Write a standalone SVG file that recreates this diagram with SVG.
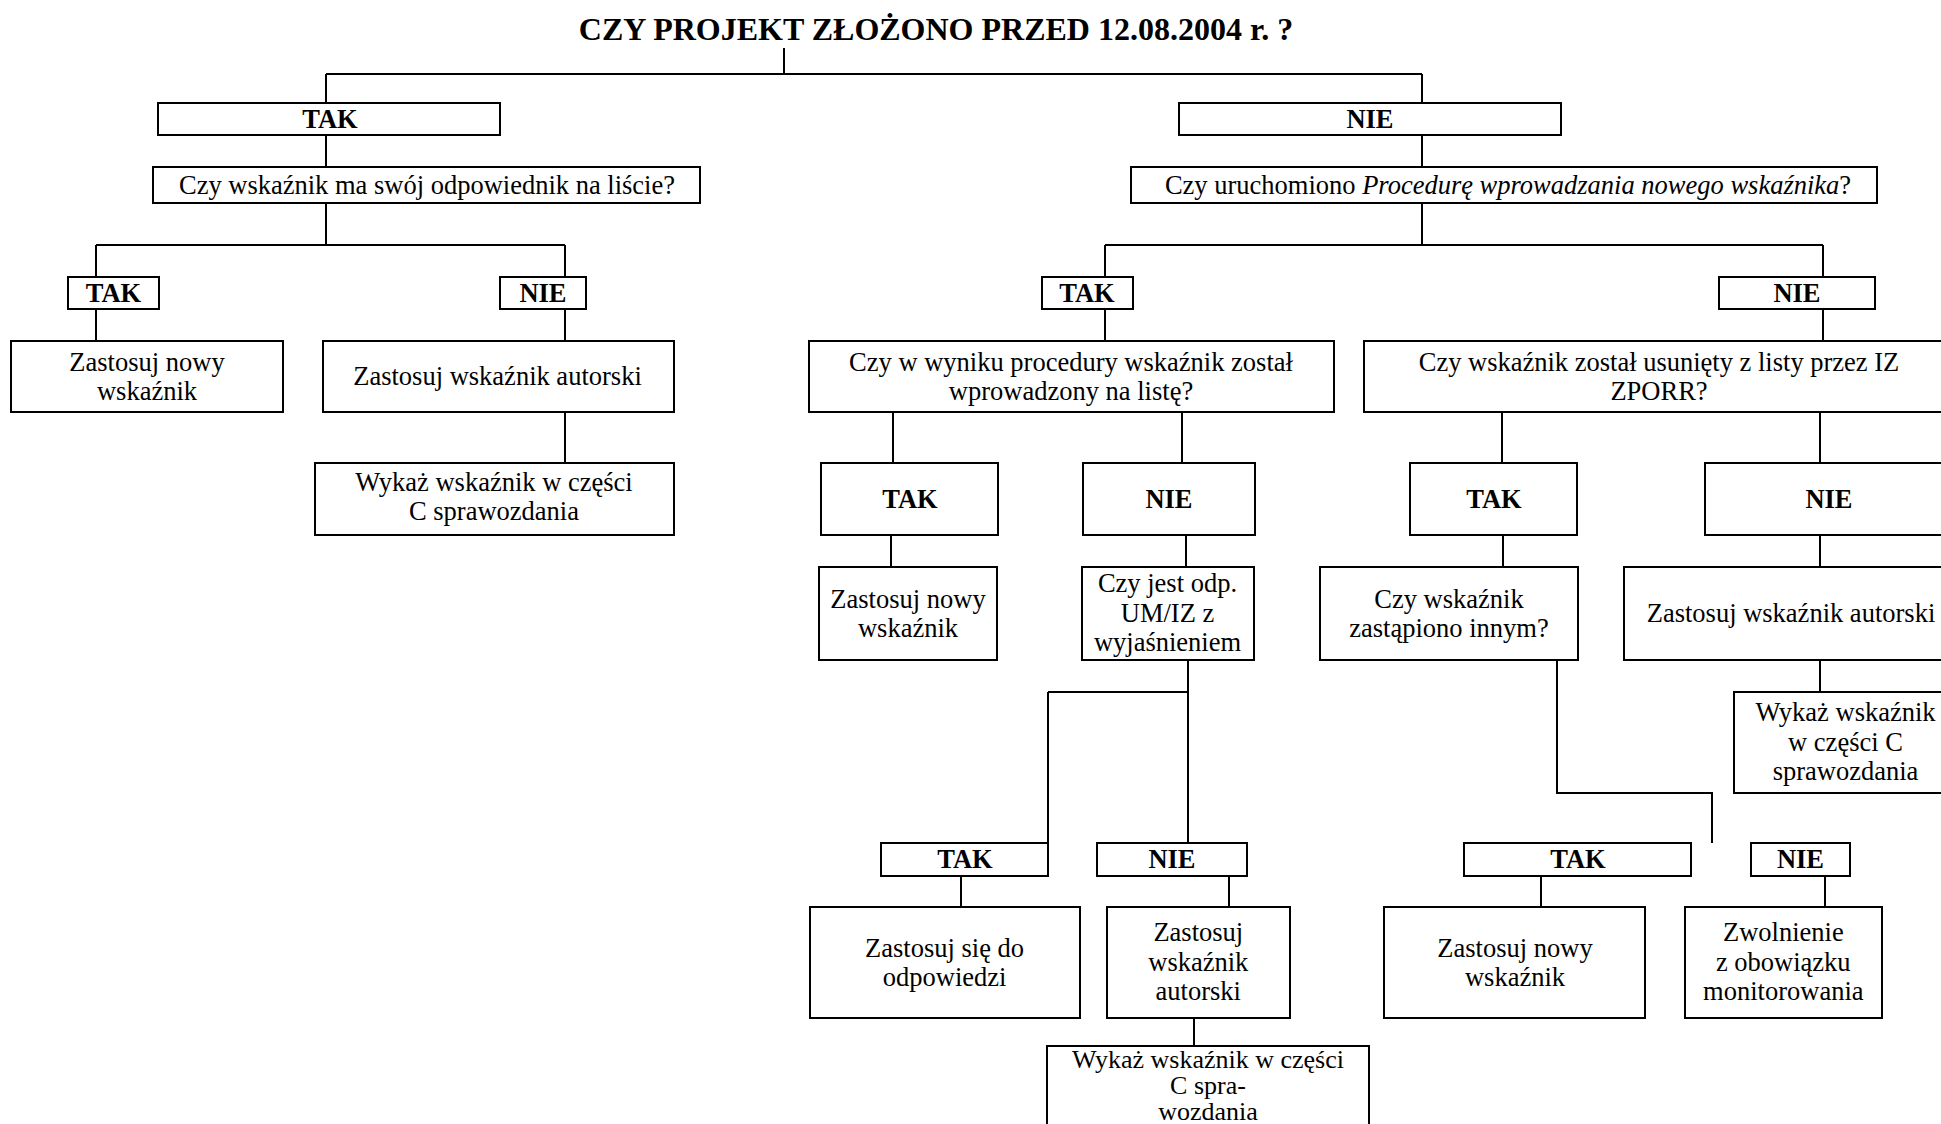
<svg xmlns="http://www.w3.org/2000/svg" width="1941" height="1124" viewBox="0 0 1941 1124">
<style>
.bx{fill:#fff;stroke:#000;stroke-width:2}
.c{stroke:#000;stroke-width:2;fill:none}
text{font-family:"Liberation Serif","Times New Roman",serif;font-size:26.5px;text-anchor:middle;fill:#000}
.b{font-weight:bold}
.ttl{font-size:32px;font-weight:bold}
.i{font-style:italic}
.sm{font-size:26px}
</style>
<rect width="1941" height="1124" fill="#fff"/>
<g id="connectors">
<path class="c" d="M784,48V74M326,74H1422M326,74V103M1422,74V103"/>
<path class="c" d="M326,135V167M326,203V245M96,245H565M96,245V277M565,245V277M96,309V341M565,309V341M565,412V463"/>
<path class="c" d="M1422,135V167M1422,203V245M1105,245H1823M1105,245V277M1823,245V277M1105,309V341M1823,309V341"/>
<path class="c" d="M893,412V463M1182,412V463M891,535V567M1186,535V567"/>
<path class="c" d="M1188,660V843M1048,692H1188M1048,692V843M961,876V907M1229,876V907M1194,1018V1046"/>
<path class="c" d="M1502,412V463M1820,412V463M1503,535V567M1820,535V567M1820,660V692"/>
<path class="c" d="M1557,660V793H1712V843M1541,876V907M1825,876V907"/>
</g>
<g id="title"><text class="ttl" x="936" y="40">CZY PROJEKT ZŁOŻONO PRZED 12.08.2004 r. ?</text></g>
<g id="tak1"><rect class="bx" x="158" y="103" width="342" height="32"/><text class="b" x="330" y="128">TAK</text></g>
<g id="nie1"><rect class="bx" x="1179" y="103" width="382" height="32"/><text class="b" x="1370" y="128">NIE</text></g>
<g id="q1"><rect class="bx" x="153" y="167" width="547" height="36"/><text x="427" y="194">Czy wskaźnik ma swój odpowiednik na liście?</text></g>
<g id="q2"><rect class="bx" x="1131" y="167" width="746" height="36"/><text x="1508" y="194">Czy uruchomiono <tspan class="i">Procedurę wprowadzania nowego wskaźnika</tspan>?</text></g>
<g id="tak2"><rect class="bx" x="68" y="277" width="91" height="32"/><text class="b" x="113.5" y="302">TAK</text></g>
<g id="nie2"><rect class="bx" x="500" y="277" width="86" height="32"/><text class="b" x="543" y="302">NIE</text></g>
<g id="tak3"><rect class="bx" x="1042" y="277" width="91" height="32"/><text class="b" x="1087" y="302">TAK</text></g>
<g id="nie3"><rect class="bx" x="1719" y="277" width="156" height="32"/><text class="b" x="1797" y="302">NIE</text></g>
<g id="new1"><rect class="bx" x="11" y="341" width="272" height="71"/><text x="147" y="371">Zastosuj nowy</text><text x="147" y="400">wskaźnik</text></g>
<g id="aut1"><rect class="bx" x="323" y="341" width="351" height="71"/><text x="497.5" y="385">Zastosuj wskaźnik autorski</text></g>
<g id="q3"><rect class="bx" x="809" y="341" width="525" height="71"/><text x="1071" y="371">Czy w wyniku procedury wskaźnik został</text><text x="1071" y="400">wprowadzony na listę?</text></g>
<g id="q4"><rect class="bx" x="1364" y="341" width="596" height="71"/><text x="1659" y="371">Czy wskaźnik został usunięty z listy przez IZ</text><text x="1659" y="400">ZPORR?</text></g>
<g id="wyk1"><rect class="bx" x="315" y="463" width="359" height="72"/><text x="494" y="491">Wykaż wskaźnik w części</text><text x="494" y="520">C sprawozdania</text></g>
<g id="tak4"><rect class="bx" x="821" y="463" width="177" height="72"/><text class="b" x="910" y="508">TAK</text></g>
<g id="nie4"><rect class="bx" x="1083" y="463" width="172" height="72"/><text class="b" x="1169" y="508">NIE</text></g>
<g id="tak5"><rect class="bx" x="1410" y="463" width="167" height="72"/><text class="b" x="1494" y="508">TAK</text></g>
<g id="nie5"><rect class="bx" x="1705" y="463" width="255" height="72"/><text class="b" x="1829" y="508">NIE</text></g>
<g id="new2"><rect class="bx" x="819" y="567" width="178" height="93"/><text x="908" y="608">Zastosuj nowy</text><text x="908" y="637">wskaźnik</text></g>
<g id="q5"><rect class="bx" x="1082" y="567" width="172" height="93"/><text x="1167.5" y="592">Czy jest odp.</text><text x="1167.5" y="622">UM/IZ z</text><text x="1167.5" y="651">wyjaśnieniem</text></g>
<g id="q6"><rect class="bx" x="1320" y="567" width="258" height="93"/><text x="1449" y="608">Czy wskaźnik</text><text x="1449" y="637">zastąpiono innym?</text></g>
<g id="aut2"><rect class="bx" x="1624" y="567" width="336" height="93"/><text x="1791" y="622">Zastosuj wskaźnik autorski</text></g>
<g id="wyk2"><rect class="bx" x="1734" y="692" width="226" height="101"/><text x="1845.5" y="721">Wykaż wskaźnik</text><text x="1845.5" y="751">w części C</text><text x="1845.5" y="780">sprawozdania</text></g>
<g id="tak6"><rect class="bx" x="881" y="843" width="167" height="33"/><text class="b" x="965" y="868">TAK</text></g>
<g id="nie6"><rect class="bx" x="1097" y="843" width="150" height="33"/><text class="b" x="1172" y="868">NIE</text></g>
<g id="tak7"><rect class="bx" x="1464" y="843" width="227" height="33"/><text class="b" x="1578" y="868">TAK</text></g>
<g id="nie7"><rect class="bx" x="1751" y="843" width="99" height="33"/><text class="b" x="1800.5" y="868">NIE</text></g>
<g id="resp"><rect class="bx" x="810" y="907" width="270" height="111"/><text x="944.6" y="957">Zastosuj się do</text><text x="944.6" y="986">odpowiedzi</text></g>
<g id="aut3"><rect class="bx" x="1107" y="907" width="183" height="111"/><text x="1198.3" y="941">Zastosuj</text><text x="1198.3" y="971">wskaźnik</text><text x="1198.3" y="1000">autorski</text></g>
<g id="new3"><rect class="bx" x="1384" y="907" width="261" height="111"/><text x="1515" y="957">Zastosuj nowy</text><text x="1515" y="986">wskaźnik</text></g>
<g id="zwol"><rect class="bx" x="1685" y="907" width="197" height="111"/><text x="1783.3" y="941">Zwolnienie</text><text x="1783.3" y="971">z obowiązku</text><text x="1783.3" y="1000">monitorowania</text></g>
<g id="wyk3"><rect class="bx" x="1047" y="1046" width="322" height="100"/><text class="sm" x="1208" y="1068">Wykaż wskaźnik w części</text><text class="sm" x="1208" y="1094">C spra-</text><text class="sm" x="1208" y="1120">wozdania</text></g>
</svg>
